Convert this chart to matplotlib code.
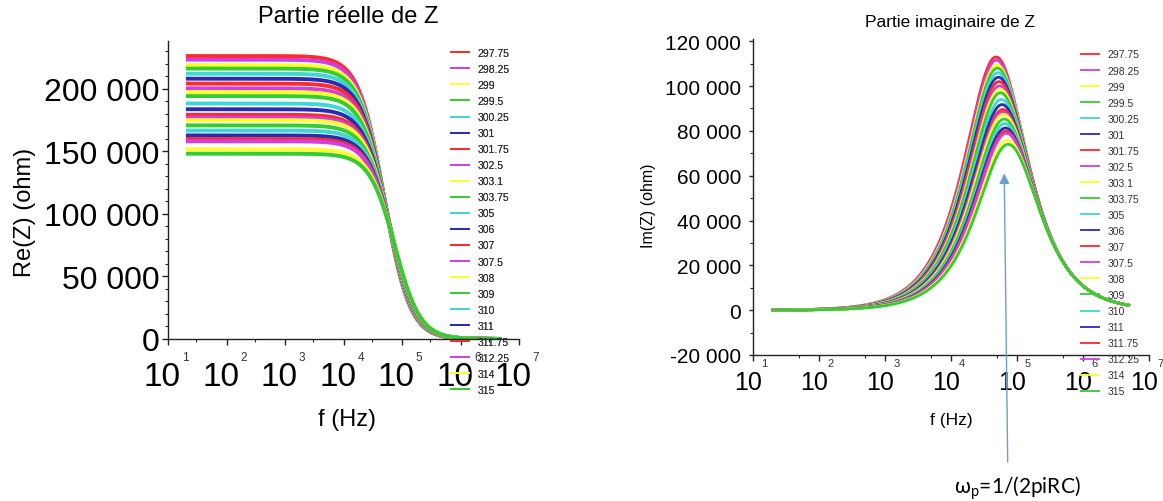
import numpy as np
import matplotlib
matplotlib.use("Agg")
import matplotlib.pyplot as plt
from matplotlib import transforms
from matplotlib.ticker import FuncFormatter, MultipleLocator, LogLocator, NullFormatter, FixedLocator

# ---------------- data ----------------
temperatures = ["297.75", "298.25", "299", "299.5", "300.25", "301", "301.75",
                "302.5", "303.1", "303.75", "305", "306", "307", "307.5", "308",
                "309", "310", "311", "311.75", "312.25", "314", "315"]
# low-frequency plateau of Re(Z) for each temperature (ohm)
resistance_ohm = [226000, 223100, 218800, 216000, 211900, 207900, 204000,
                  200200, 197200, 194000, 188100, 183500, 179100, 176900, 174800,
                  170600, 166500, 162600, 159700, 157900, 151500, 148000]
# capacitance read from the peak position of Im(Z) (F)
capacitance_F = 14.4e-12
f_start_Hz = 20.0
f_stop_Hz = 5.0e6
decades = [1, 2, 3, 4, 5, 6, 7]
re_ticks = [0, 50000, 100000, 150000, 200000]
im_ticks = [-20000, 0, 20000, 40000, 60000, 80000, 100000, 120000]

colors = ["#ff2b2b", "#d13fe0", "#ffff2e", "#34cc34", "#40d6d6", "#2b2bb2"]

W, H = 1163, 502
fig = plt.figure(figsize=(W / 100, H / 100), dpi=100)
FONT = ["Liberation Sans", "DejaVu Sans"]
plt.rcParams["font.family"] = FONT


def rect(x0, x1, ytop, ybot):
    return [x0 / W, 1 - ybot / H, (x1 - x0) / W, (ybot - ytop) / H]


def space_fmt(v, pos):
    return f"{int(round(v)):,}".replace(",", " ")


freq = np.logspace(np.log10(f_start_Hz), np.log10(f_stop_Hz), 600)

ax1 = fig.add_axes(rect(168.3, 519.3, 42, 340))
ax2 = fig.add_axes(rect(752.7, 1148.5, 40, 356))

lines_left = []
for i, R in enumerate(resistance_ohm):
    x = 2 * np.pi * freq * R * capacitance_F
    re = R / (1 + x ** 2)
    im = R * x / (1 + x ** 2)
    c = colors[i % len(colors)]
    l1, = ax1.plot(freq, re, color=c, lw=2.8, label=temperatures[i], solid_capstyle="butt")
    ax2.plot(freq, im, color=c, lw=2.0, label=temperatures[i])
    lines_left.append(l1)

for ax in (ax1, ax2):
    ax.set_xscale("log")
    ax.set_xlim(1e1, 1e7)
    for s in ("top", "right"):
        ax.spines[s].set_visible(False)
    for s in ("left", "bottom"):
        ax.spines[s].set_linewidth(1.0)
        ax.spines[s].set_color("#222222")
    ax.xaxis.set_major_locator(FixedLocator([10.0 ** k for k in decades]))
    ax.xaxis.set_major_formatter(NullFormatter())
    ax.xaxis.set_minor_formatter(NullFormatter())
    ax.yaxis.set_major_formatter(FuncFormatter(space_fmt))
    ax.patch.set_alpha(0)

ax1.set_ylim(0, 238000)
ax1.set_yticks(re_ticks)
ax1.yaxis.set_minor_locator(MultipleLocator(10000))
ax1.xaxis.set_minor_locator(LogLocator(base=10, subs=(3.0,)))
ax1.tick_params(axis="y", which="major", length=4, width=1, labelsize=23, pad=2.5, color="#222222")
ax1.tick_params(axis="y", which="minor", length=2, width=0.8, color="#222222")
ax1.tick_params(axis="x", which="major", length=4, width=1, color="#222222")
ax1.tick_params(axis="x", which="minor", length=2.5, width=0.8, color="#222222")

ax2.set_ylim(-20000, 121000)
ax2.set_yticks(im_ticks)
ax2.yaxis.set_minor_locator(MultipleLocator(10000))
ax2.xaxis.set_minor_locator(LogLocator(base=10, subs=(5.0,)))
ax2.tick_params(axis="y", which="major", length=3, width=1, labelsize=15, pad=5.5, color="#222222")
ax2.tick_params(axis="y", which="minor", length=2, width=0.8, color="#222222")
ax2.tick_params(axis="x", which="major", length=4, width=1, color="#222222")
ax2.tick_params(axis="x", which="minor", length=2.5, width=0.8, color="#222222")


def decade_labels(ax, size10, sizesup, dx10, dy10, dxs, dys):
    for k in decades:
        t10 = transforms.offset_copy(ax.get_xaxis_transform(), fig=fig, x=dx10, y=-dy10, units="dots")
        ax.text(10.0 ** k, 0, "10", transform=t10, ha="center", va="center",
                fontsize=size10, clip_on=False)
        ts = transforms.offset_copy(ax.get_xaxis_transform(), fig=fig, x=dxs, y=-dys, units="dots")
        ax.text(10.0 ** k, 0, str(k), transform=ts, ha="left", va="center",
                fontsize=sizesup, clip_on=False, color="#333333")


decade_labels(ax1, 24, 8.5, -6, 38, 13.5, 18)
decade_labels(ax2, 18, 8, -4.5, 27, 8.5, 8)

# titles and axis labels
fig.text(348 / W, 1 - 17 / H, "Partie réelle de Z", ha="center", va="center", fontsize=17)
fig.text(950 / W, 1 - 22 / H, "Partie imaginaire de Z", ha="center", va="center", fontsize=12.5)
fig.text(347 / W, 1 - 420 / H, "f (Hz)", ha="center", va="center", fontsize=17)
fig.text(951 / W, 1 - 420 / H, "f (Hz)", ha="center", va="center", fontsize=12.5)
fig.text(25 / W, 1 - 212 / H, "Re(Z) (ohm)", ha="center", va="center", fontsize=17, rotation=90)
fig.text(648 / W, 1 - 206 / H, "Im(Z) (ohm)", ha="center", va="center", fontsize=11.5, rotation=90)


def make_legend(x_px, top_px):
    leg = fig.legend(lines_left, temperatures, loc="upper left",
                     bbox_to_anchor=(x_px / W, 1 - top_px / H), frameon=False,
                     fontsize=7.5, handlelength=1.9, handletextpad=0.75,
                     labelspacing=0.58, borderpad=0, borderaxespad=0)
    for ln in leg.get_lines():
        ln.set_linewidth(1.3)
    for t in leg.get_texts():
        t.set_color("#333333")
    return leg


leg1 = make_legend(450, 49)
leg2 = make_legend(1080, 50.5)
fig.add_artist(leg1)

# annotation arrow pointing at the peak frequency
ax2.annotate("", xy=(6.5e4, 61000), xycoords="data",
             xytext=(1007.7, H - 463), textcoords="figure pixels",
             arrowprops=dict(arrowstyle="-|>,head_length=0.6,head_width=0.3",
                             color="#6f9fd2", lw=1.0, shrinkA=0, shrinkB=0))
fig.text(1017 / W, 1 - 488 / H, r"ω$_{\mathregular{p}}$=1/(2piRC)", ha="center", va="center",
         fontsize=15, family=["Lato", "Open Sans", "DejaVu Sans"])

fig.savefig("out.png", dpi=100)
